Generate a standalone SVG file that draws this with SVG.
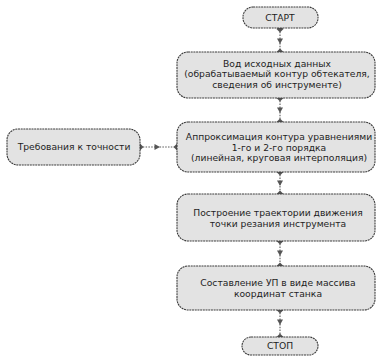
<svg xmlns="http://www.w3.org/2000/svg" width="378" height="357" viewBox="0 0 378 357">
<style>
.box{fill:#e3e3e3;stroke:#3c3c3c;stroke-width:1.1;stroke-dasharray:2 0.7}
.t{font-family:"DejaVu Sans",Verdana,sans-serif;font-size:9.2px;fill:#1e1e1e;text-anchor:middle}
.c{fill:none;stroke:#5a5a5a;stroke-width:1.1;stroke-dasharray:1.5 1.3;marker-start:url(#dia);marker-mid:url(#arr);marker-end:url(#dia)}
</style>
<defs>
<marker id="dia" viewBox="-4 -4 8 8" markerWidth="8" markerHeight="8" refX="0" refY="0" markerUnits="userSpaceOnUse" orient="auto">
<path d="M-3.5,0 L0,-3.5 L3.5,0 L0,3.5 Z" fill="#555"/>
</marker>
<marker id="arr" viewBox="-4 -4 8 8" markerWidth="8" markerHeight="8" refX="0" refY="0" markerUnits="userSpaceOnUse" orient="auto">
<path d="M-2.5,-3 L3,0 L-2.5,3 Z" fill="#555"/>
</marker>
</defs>
<rect width="378" height="357" fill="#ffffff"/>
<g id="connectors">
<path class="c" d="M280,29 L280,41 L280,52"/>
<path class="c" d="M280,98 L280,110 L280,122"/>
<path class="c" d="M280,172 L280,183 L280,194"/>
<path class="c" d="M280,241 L280,253 L280,266"/>
<path class="c" d="M280,310 L280,322 L280,337"/>
<path class="c" d="M140,147 L157,147 L177,147"/>
</g>
<g id="start">
<rect class="box" x="243" y="7" width="75" height="21" rx="10"/>
<text class="t" x="280" y="21.3">СТАРТ</text>
</g>
<g id="input">
<rect class="box" x="177" y="52" width="198" height="46" rx="11"/>
<text class="t" x="277" y="66.5">Вод исходных данных</text>
<text class="t" x="277" y="77">(обрабатываемый контур обтекателя,</text>
<text class="t" x="277" y="87.5">сведения об инструменте)</text>
</g>
<g id="accuracy">
<rect class="box" x="7" y="129" width="133" height="36" rx="11"/>
<text class="t" x="74" y="150.3">Требования к точности</text>
</g>
<g id="approx">
<rect class="box" x="177" y="122" width="198" height="50" rx="11"/>
<text class="t" x="279" y="140">Аппроксимация контура уравнениями</text>
<text class="t" x="279" y="150.5">1-го и 2-го порядка</text>
<text class="t" x="279" y="161">(линейная, круговая интерполяция)</text>
</g>
<g id="trajectory">
<rect class="box" x="177" y="194" width="198" height="47" rx="11"/>
<text class="t" x="278" y="216.3">Построение траектории движения</text>
<text class="t" x="278" y="226.8">точки резания инструмента</text>
</g>
<g id="program">
<rect class="box" x="177" y="266" width="198" height="44" rx="11"/>
<text class="t" x="278" y="286.3">Составление УП в виде массива</text>
<text class="t" x="278" y="296.8">координат станка</text>
</g>
<g id="stop">
<rect class="box" x="242" y="337" width="76" height="18" rx="9"/>
<text class="t" x="280" y="349.3">СТОП</text>
</g>
</svg>
